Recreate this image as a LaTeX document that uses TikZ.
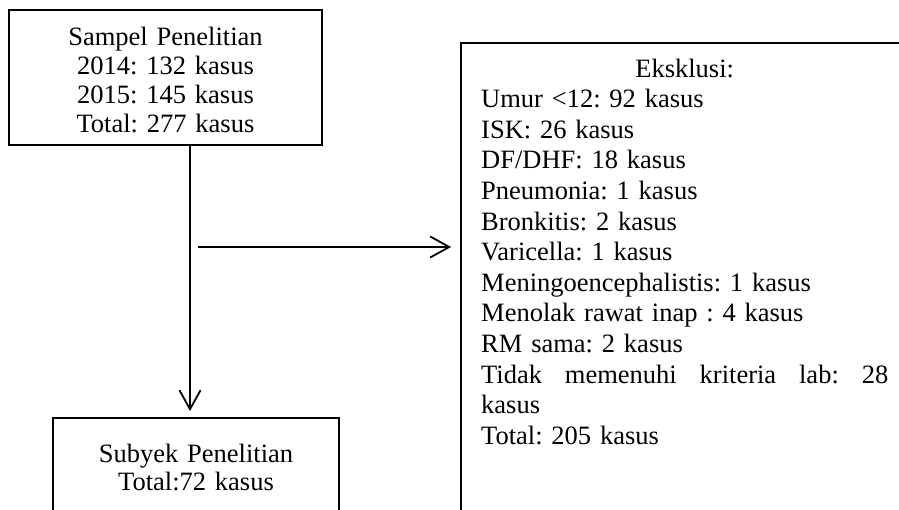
\documentclass[tikz,border=0pt]{standalone}
\usepackage{fontspec}
\setmainfont{Liberation Serif}
\frenchspacing
\usetikzlibrary{arrows.meta}
\tikzset{
  boxframe/.style={draw=black, line width=1.8pt, rectangle, inner sep=0pt},
  txt/.style={inner sep=0pt, font={\fontsize{26.5}{29}\selectfont}},
  arr/.style={draw=black, line width=1.8pt, -{Straight Barb[length=19pt,width=21pt]}}
}
\begin{document}
\begin{tikzpicture}[x=1pt, y=-1pt]
\path[use as bounding box, clip] (0,0) rectangle (899,509);
\fill[white] (0,0) rectangle (899,509);
% boxes
\node[boxframe, minimum width=313pt, minimum height=135pt] (top) at (165.5,77.5) {};
\node[boxframe, minimum width=286pt, minimum height=182pt] (bot) at (196,509) {};
\node[boxframe, minimum width=489pt, minimum height=557pt] (right) at (705.5,321.5) {};
% texts
\node[txt, text width=313pt, align=center, anchor=base] (toptext) at (165.5,45)
  {Sampel Penelitian\\2014: 132 kasus\\2015: 145 kasus\\Total: 277 kasus};
\node[txt, text width=286pt, align=center, anchor=base, font={\fontsize{26.5}{28.5}\selectfont}] (bottext) at (196,462)
  {Subyek Penelitian\\Total:72 kasus};
\node[txt, text width=407pt, align=left, anchor=base west, font={\fontsize{26.5}{30.6}\selectfont}] (righttext) at (481,77)
  {\makebox[407pt][c]{Eksklusi:}\\
   Umur <12: 92 kasus\\
   ISK: 26 kasus\\
   DF/DHF: 18 kasus\\
   Pneumonia: 1 kasus\\
   Bronkitis: 2 kasus\\
   Varicella: 1 kasus\\
   Meningoencephalistis: 1 kasus\\
   Menolak rawat inap : 4 kasus\\
   RM sama: 2 kasus\\
   Tidak\hfill memenuhi\hfill kriteria\hfill lab:\hfill 28\\
   kasus\\
   Total: 205 kasus};
% connectors
\coordinate (ax) at (190,0);
\coordinate (hs) at (198,247);
\draw[arr] (top.south -| ax) -- ([yshift=6pt]bot.north -| ax);
\draw[arr] (hs) -- ([xshift=-9pt]right.west |- hs);
\end{tikzpicture}
\end{document}
